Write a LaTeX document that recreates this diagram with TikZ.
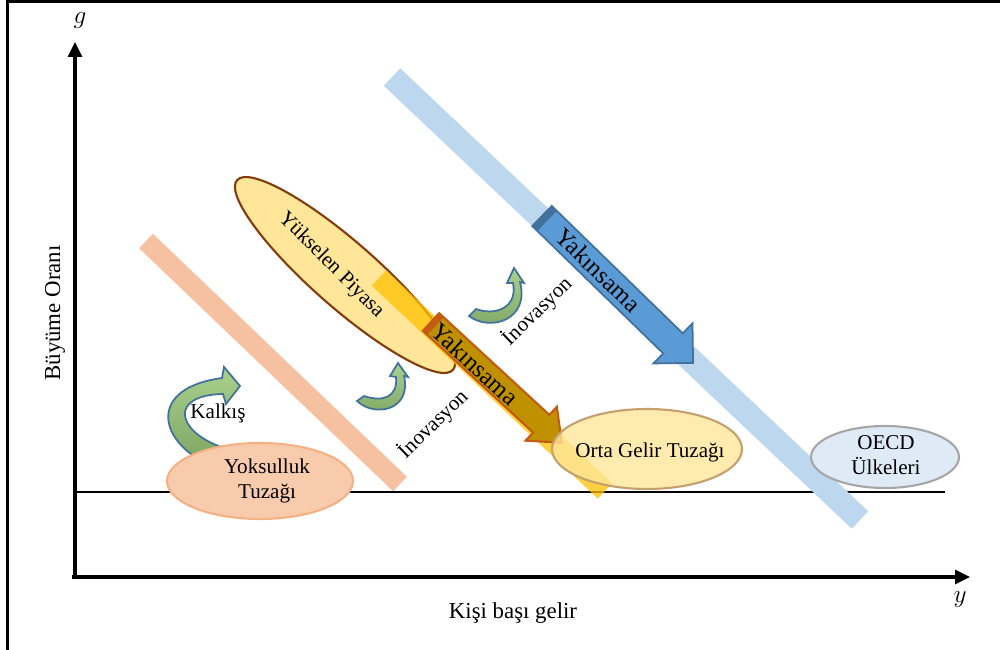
\documentclass[tikz,border=0pt]{standalone}
\usepackage{fontspec}
\setmainfont{Liberation Serif}
\usepackage{tikz}
\usetikzlibrary{calc}
\usetikzlibrary{arrows.meta}
\usetikzlibrary{shapes.geometric}
\definecolor{bandorange}{RGB}{245,193,160}
\definecolor{bandblue}{RGB}{189,215,238}
\definecolor{bandyellow}{RGB}{255,192,0}
\definecolor{lightyellow}{RGB}{255,230,153}
\definecolor{brownline}{RGB}{132,60,12}
\definecolor{goldfill}{RGB}{191,144,0}
\definecolor{orangeline}{RGB}{197,90,17}
\definecolor{bluefill}{RGB}{91,155,213}
\definecolor{blueline}{RGB}{65,113,156}
\definecolor{paleblue}{RGB}{222,235,247}
\definecolor{peach}{RGB}{248,203,173}
\definecolor{peachline}{RGB}{244,177,131}
\definecolor{tanline}{RGB}{196,160,110}
\definecolor{greenlight}{RGB}{169,209,142}
\definecolor{greendark}{RGB}{128,165,98}
\tikzset{axis/.style={line width=1.8pt,-{Triangle[length=0.3cm,width=0.28cm]}}}
\tikzset{band/.style={line width=#1,line cap=butt}}
\tikzset{blob/.style={ellipse,inner sep=0pt,line width=1.2pt}}
\tikzset{curvy/.style={draw=blueline,line width=1pt,top color=greenlight,bottom color=greendark}}

\begin{document}
\begin{tikzpicture}[x=0.02cm,y=-0.02cm,font=\fontsize{12}{14}\selectfont]
\useasboundingbox (0,0) rectangle (1000,649);
\clip (0,0) rectangle (1000,649);
\draw[line width=1.6pt] (7.5,1.3) rectangle (1010,660);

% axes
\coordinate (O) at (75,579);
\coordinate (gtop) at (75,42);
\coordinate (xs) at (72,577);
\coordinate (yend) at (970,577);
\draw[axis] (O) -- (gtop);
\draw[axis] (xs) -- (yend);
\node (g) at (80,21) {\fontsize{15}{15}\selectfont$g$};
\node (y) at (960,600) {\fontsize{15}{15}\selectfont$y$};
\node[rotate=90] (gy) at (55,313) {\fontsize{13}{14}\selectfont Büyüme Oranı};
\node (kbg) at (513,613) {\fontsize{13}{14}\selectfont Kişi başı gelir};
\coordinate (h0) at (75,492);
\coordinate (h1) at (945,492);
\draw[line width=0.6pt] (h0) -- (h1);

% bands
\coordinate (b0) at (392,77);
\coordinate (b1) at (860,520);
\draw[band=0.48cm,bandblue] (b0) -- (b1);
\coordinate (o0) at (146,241);
\coordinate (o1) at (400,484);
\draw[band=0.4cm,bandorange] (o0) -- (o1);

% poverty trap and take-off
\draw[curvy] (206,463) .. controls (158,440) and (148,388) .. (222,378) -- (224,367) -- (240,386) -- (226,404) -- (223,394) .. controls (170,395) and (175,430) .. (221,447) -- cycle;
\node[blob,fill=peach,draw=peachline,minimum width=3.72cm,minimum height=1.52cm] (yt) at (260,481) {};
\node[align=center] (yttext) at (267,481) {Yoksulluk\\Tuzağı};
\node (kalkis) at (218,413) {Kalkış};

% emerging market
\node[blob,fill=lightyellow,draw=brownline,minimum width=5.75cm,minimum height=1.3cm,rotate=-41.3] (yp) at (345,275) {};
\node[rotate=-45] (yptext) at (331,265) {Yükselen Piyasa};
\coordinate (s0) at (379,278);
\coordinate (s1) at (605,491);
\draw[band=0.42cm,bandyellow,opacity=0.75] (s0) -- (s1);

% gold arrow
\coordinate (gt) at (431,322);
\begin{scope}[shift={(gt)},rotate=-42.7]
\draw[fill=goldfill,draw=orangeline,line width=1.2pt,line join=miter] (0,-12) -- (150,-12) -- (150,-23) -- (178,0) -- (150,23) -- (150,12) -- (0,12) -- cycle;
\fill[orangeline] (0,-12) rectangle (6,12);
\end{scope}
\node[rotate=-42.7,font=\fontsize{14}{14}\selectfont] (yak1) at (475,364) {Yakınsama};

\node[blob,fill=lightyellow,fill opacity=0.8,draw=tanline,minimum width=3.8cm,minimum height=1.6cm] (ogt) at (647,449) {};
\node (ogttext) at (650,452) {Orta Gelir Tuzağı};

% blue arrow
\coordinate (bt) at (542,216);
\begin{scope}[shift={(bt)},rotate=-44.2]
\draw[fill=bluefill,draw=blueline,line width=1pt] (0,-14) -- (182.7,-14) -- (182.7,-28) -- (210.7,0) -- (182.7,28) -- (182.7,14) -- (0,14) -- cycle;
\fill[blueline] (0,-14) rectangle (7,14);
\end{scope}
\node[rotate=-44.2,font=\fontsize{14}{14}\selectfont] (yak2) at (598,270) {Yakınsama};

\node[blob,fill=paleblue,draw=black!35,minimum width=2.96cm,minimum height=1.24cm] (oecd) at (885,457) {};
\node[align=center] (oecdtext) at (886,455) {OECD\\Ülkeleri};

% innovation
\draw[curvy] (357,401) .. controls (375,418) and (412,410) .. (404,376) -- (408,377) -- (398,363) -- (390,376) -- (396,377) .. controls (398,398) and (382,402) .. (364,396) -- cycle;
\draw[curvy] (469,316) .. controls (490,332) and (530,320) .. (520,282) -- (524,283) -- (514,268) -- (507,283) -- (513,283) .. controls (518,308) and (495,316) .. (476,309) -- cycle;
\node[rotate=44] (inov1) at (433,424) {İnovasyon};
\node[rotate=44] (inov2) at (537,311) {İnovasyon};
\end{tikzpicture}
\end{document}
